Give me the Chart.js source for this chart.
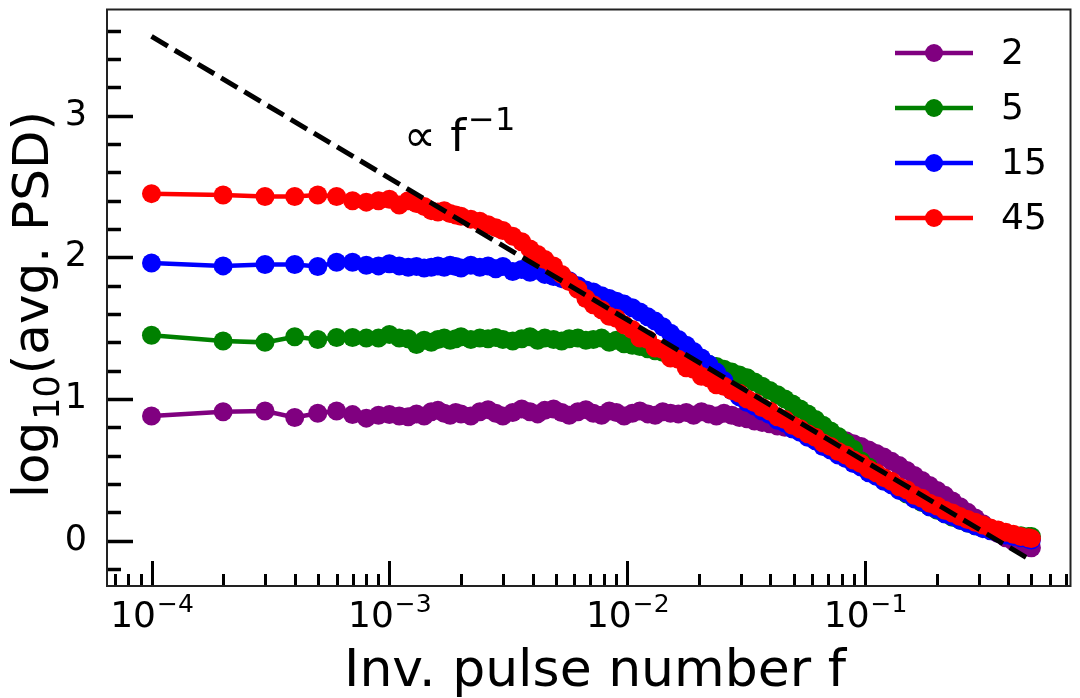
<!DOCTYPE html>
<html>
<head>
<meta charset="utf-8">
<script src="https://cdn.jsdelivr.net/npm/chart.js@4.4.1/dist/chart.umd.min.js"></script>
<style>
  body { margin: 0; background: #fff; }
  #wrap { width: 1080px; height: 698px; }
</style>
</head>
<body>
<div id="wrap"><canvas id="psdChart"></canvas></div>
<script>
// pulse index k; inverse pulse number f = k / 10000
const pulseIdx = [
  1, 2, 3, 4, 5, 6, 7, 8, 9, 10,
  11, 12, 13, 14, 15, 16, 17, 18, 19, 20,
  22, 24, 26, 28, 30, 33, 36, 39, 42, 45,
  49, 53, 57, 62, 67, 72, 78, 84, 90, 97,
  105, 113, 122, 131, 141, 152, 164, 177, 190, 205,
  220, 237, 255, 275, 296, 319, 343, 369, 397, 428,
  460, 495, 533, 574, 618, 665, 716, 771, 830, 893,
  961, 1035, 1114, 1199, 1291, 1390, 1496, 1610, 1733, 1866,
  2009, 2163, 2328, 2506, 2698, 2904, 3126, 3365, 3622, 3899,
  4197, 4518, 4863, 5000
];

// log10 of averaged PSD, one array per series
const psd2 = [
  0.88, 0.91, 0.915, 0.87, 0.90, 0.915, 0.89, 0.865, 0.885, 0.89,
  0.88, 0.875, 0.895, 0.88, 0.91, 0.92, 0.90, 0.885, 0.905, 0.895,
  0.88, 0.91, 0.925, 0.90, 0.88, 0.905, 0.93, 0.91, 0.895, 0.92,
  0.93, 0.905, 0.885, 0.91, 0.925, 0.90, 0.885, 0.915, 0.905, 0.88,
  0.90, 0.915, 0.895, 0.885, 0.91, 0.90, 0.895, 0.905, 0.885, 0.91,
  0.895, 0.88, 0.90, 0.885, 0.87, 0.86, 0.845, 0.835, 0.825, 0.81,
  0.80, 0.79, 0.785, 0.775, 0.765, 0.755, 0.74, 0.725, 0.705, 0.685,
  0.665, 0.64, 0.615, 0.59, 0.56, 0.53, 0.495, 0.46, 0.425, 0.39,
  0.355, 0.32, 0.28, 0.24, 0.20, 0.16, 0.12, 0.085, 0.05, 0.02,
  -0.005, -0.025, -0.045, -0.05
];
const psd5 = [
  1.45, 1.41, 1.40, 1.44, 1.42, 1.435, 1.435, 1.43, 1.43, 1.455,
  1.43, 1.425, 1.385, 1.415, 1.40, 1.42, 1.43, 1.415, 1.425, 1.44,
  1.42, 1.43, 1.425, 1.435, 1.42, 1.41, 1.425, 1.44, 1.415, 1.43,
  1.42, 1.41, 1.425, 1.43, 1.415, 1.42, 1.43, 1.40, 1.415, 1.39,
  1.38, 1.37, 1.355, 1.34, 1.33, 1.315, 1.30, 1.29, 1.275, 1.26,
  1.245, 1.23, 1.21, 1.19, 1.17, 1.15, 1.12, 1.09, 1.06, 1.03,
  1.00, 0.965, 0.93, 0.895, 0.855, 0.815, 0.775, 0.735, 0.69, 0.645,
  0.565, 0.52, 0.475, 0.44, 0.40, 0.365, 0.33, 0.30, 0.27, 0.24,
  0.215, 0.19, 0.165, 0.145, 0.125, 0.105, 0.09, 0.075, 0.06, 0.05,
  0.04, 0.035, 0.03, 0.03
];
const psd15 = [
  1.96, 1.94, 1.95, 1.95, 1.935, 1.965, 1.965, 1.945, 1.94, 1.955,
  1.94, 1.93, 1.935, 1.925, 1.93, 1.94, 1.93, 1.945, 1.935, 1.925,
  1.945, 1.93, 1.94, 1.92, 1.935, 1.90, 1.915, 1.895, 1.91, 1.88,
  1.865, 1.85, 1.835, 1.80, 1.77, 1.755, 1.73, 1.71, 1.69, 1.67,
  1.645, 1.615, 1.58, 1.55, 1.51, 1.465, 1.42, 1.38, 1.335, 1.29,
  1.245, 1.19, 1.13, 1.06, 1.015, 0.975, 0.95, 0.915, 0.89, 0.85,
  0.83, 0.79, 0.765, 0.73, 0.705, 0.665, 0.64, 0.605, 0.58, 0.545,
  0.52, 0.48, 0.455, 0.42, 0.395, 0.355, 0.335, 0.295, 0.275, 0.24,
  0.22, 0.19, 0.17, 0.145, 0.125, 0.105, 0.085, 0.07, 0.055, 0.04,
  0.03, 0.02, 0.01, 0.005
];
const psd45 = [
  2.45, 2.44, 2.43, 2.43, 2.44, 2.43, 2.40, 2.39, 2.40, 2.41,
  2.37, 2.40, 2.38, 2.36, 2.33, 2.32, 2.33, 2.31, 2.30, 2.29,
  2.27, 2.255, 2.23, 2.21, 2.19, 2.15, 2.11, 2.06, 2.02, 1.985,
  1.94, 1.88, 1.83, 1.775, 1.71, 1.665, 1.63, 1.585, 1.57, 1.525,
  1.49, 1.43, 1.42, 1.36, 1.35, 1.29, 1.28, 1.22, 1.21, 1.16,
  1.15, 1.10, 1.09, 1.06, 1.04, 1.00, 0.975, 0.94, 0.915, 0.875,
  0.855, 0.815, 0.79, 0.755, 0.73, 0.69, 0.665, 0.63, 0.605, 0.57,
  0.545, 0.505, 0.48, 0.445, 0.42, 0.38, 0.36, 0.32, 0.30, 0.265,
  0.245, 0.215, 0.195, 0.17, 0.15, 0.13, 0.11, 0.09, 0.075, 0.06,
  0.045, 0.03, 0.02, 0.015
];

// slope -1 guide line
const guideF = [1e-4, 0.5];
const guidePSD = [3.56, -0.14];

const seriesNames = ['2', '5', '15', '45'];
const seriesColors = ['purple', 'green', 'blue', 'red'];

const xTicks = [1e-4, 1e-3, 1e-2, 1e-1];
const xTickExp = ['\u22124', '\u22123', '\u22122', '\u22121'];
const yTicks = [0, 1, 2, 3];

const FONT = '"DejaVu Sans", "Liberation Sans", sans-serif';
const freq = pulseIdx.map(k => k / 10000);

function toPoints(xs, ys) {
  return xs.map((x, i) => ({ x: x, y: ys[i] }));
}

function series(label, values, color, order) {
  return {
    label: label,
    data: toPoints(freq, values),
    showLine: true,
    borderColor: color,
    backgroundColor: color,
    borderWidth: 4.5,
    pointRadius: 9.5,
    pointHoverRadius: 9.5,
    pointBorderWidth: 0,
    tension: 0,
    order: order
  };
}

// ticks pointing inward, frame, tick labels, titles, legend and the f^-1 note
const axesDecor = {
  id: 'axesDecor',
  afterDraw(chart) {
    const { ctx, chartArea: a, scales: { x, y } } = chart;
    ctx.save();
    ctx.strokeStyle = '#000';
    ctx.lineCap = 'butt';

    // y ticks every 0.2, long ones on integers
    for (let i = -1; i <= 18; i++) {
      const py = Math.round(y.getPixelForValue(i / 5)) + 0.5;
      if (py < a.top || py > a.bottom) continue;
      const len = i % 5 === 0 ? 26 : 14;
      ctx.lineWidth = 3.5;
      ctx.beginPath();
      ctx.moveTo(a.left, py);
      ctx.lineTo(a.left + len, py);
      ctx.stroke();
    }
    // x ticks at 1..9 x 10^n
    for (let e = -5; e <= -1; e++) {
      for (let m = 1; m <= 9; m++) {
        const v = m * Math.pow(10, e);
        const px = Math.round(x.getPixelForValue(v)) + 0.5;
        if (px < a.left + 1 || px > a.right - 1) continue;
        const len = m === 1 ? 25 : 12;
        ctx.lineWidth = 3;
        ctx.beginPath();
        ctx.moveTo(px, a.bottom);
        ctx.lineTo(px, a.bottom - len);
        ctx.stroke();
      }
    }
    // frame
    ctx.lineWidth = 2;
    ctx.strokeStyle = '#222';
    ctx.strokeRect(a.left, a.top, a.right - a.left, a.bottom - a.top);

    ctx.fillStyle = '#000';
    ctx.textAlign = 'left';
    ctx.textBaseline = 'alphabetic';

    // x tick labels 10^n
    xTicks.forEach((v, i) => {
      const px = x.getPixelForValue(v);
      ctx.font = '36px ' + FONT;
      const wb = ctx.measureText('10').width;
      ctx.font = '25px ' + FONT;
      const we = ctx.measureText(xTickExp[i]).width;
      const x0 = px - (wb + we) / 2;
      ctx.font = '36px ' + FONT;
      ctx.fillText('10', x0, 627);
      ctx.font = '25px ' + FONT;
      ctx.fillText(xTickExp[i], x0 + wb + 1, 612);
    });

    // x title
    ctx.font = '52px ' + FONT;
    ctx.textAlign = 'center';
    ctx.fillText('Inv. pulse number f', 595, 686);

    // y title, rotated
    ctx.save();
    ctx.translate(48, 306);
    ctx.rotate(-Math.PI / 2);
    ctx.textAlign = 'left';
    ctx.font = '50px ' + FONT;
    const w1 = ctx.measureText('log').width;
    const w3 = ctx.measureText('(avg. PSD)').width;
    ctx.font = '35px ' + FONT;
    const w2 = ctx.measureText('10').width;
    let t0 = -(w1 + w2 + w3) / 2;
    ctx.font = '50px ' + FONT;
    ctx.fillText('log', t0, 0);
    ctx.font = '35px ' + FONT;
    ctx.fillText('10', t0 + w1 + 2, 11);
    ctx.font = '50px ' + FONT;
    ctx.fillText('(avg. PSD)', t0 + w1 + w2 + 3, 0);
    ctx.restore();

    // proportionality note
    ctx.textAlign = 'left';
    ctx.font = '45px ' + FONT;
    const nx = x.getPixelForValue(1.15e-3);
    const ny = y.getPixelForValue(2.75);
    ctx.fillText('\u221d f', nx, ny);
    const wn = ctx.measureText('\u221d f').width;
    ctx.font = '32px ' + FONT;
    ctx.fillText('\u22121', nx + wn + 2, ny - 21);

    // legend
    const rows = [53, 108, 163, 218];
    seriesNames.forEach((name, i) => {
      const ry = rows[i];
      ctx.strokeStyle = seriesColors[i];
      ctx.fillStyle = seriesColors[i];
      ctx.lineWidth = 4.5;
      ctx.beginPath();
      ctx.moveTo(895, ry);
      ctx.lineTo(973, ry);
      ctx.stroke();
      ctx.beginPath();
      ctx.arc(934, ry, 9, 0, Math.PI * 2);
      ctx.fill();
      ctx.fillStyle = '#000';
      ctx.font = '36px ' + FONT;
      ctx.textBaseline = 'middle';
      ctx.fillText(name, 1001, ry + 2);
      ctx.textBaseline = 'alphabetic';
    });
    ctx.restore();
  }
};

const ctx = document.getElementById('psdChart').getContext('2d');

const psdChart = new Chart(ctx, {
  type: 'scatter',
  data: {
    datasets: [
      {
        label: 'f^-1',
        data: toPoints(guideF, guidePSD),
        showLine: true,
        borderColor: '#000',
        borderWidth: 5,
        borderDash: [19, 8],
        pointRadius: 0,
        pointHoverRadius: 0,
        order: 0
      },
      series(seriesNames[3], psd45, seriesColors[3], 1),
      series(seriesNames[2], psd15, seriesColors[2], 2),
      series(seriesNames[1], psd5, seriesColors[1], 3),
      series(seriesNames[0], psd2, seriesColors[0], 4)
    ]
  },
  options: {
    responsive: true,
    maintainAspectRatio: false,
    animation: false,
    layout: { padding: { top: 5, right: 3, left: 0, bottom: 0 } },
    plugins: {
      legend: { display: false },
      tooltip: { enabled: false }
    },
    scales: {
      x: {
        type: 'logarithmic',
        min: 6.5e-5,
        max: 0.73,
        grid: { display: false },
        border: { display: false },
        ticks: { display: false },
        afterFit(s) {
          s.height = 112;
          s.paddingLeft = 0;
          s.paddingRight = 0;
        }
      },
      y: {
        type: 'linear',
        min: -0.32,
        max: 3.75,
        grid: { display: false },
        border: { display: false },
        afterBuildTicks(s) {
          s.ticks = yTicks.map(v => ({ value: v }));
        },
        ticks: {
          color: '#000',
          padding: 12,
          font: { family: FONT, size: 35 }
        },
        afterFit(s) {
          s.width = 107;
          s.paddingTop = 0;
          s.paddingBottom = 0;
        }
      }
    }
  },
  plugins: [axesDecor]
});
</script>
</body>
</html>
